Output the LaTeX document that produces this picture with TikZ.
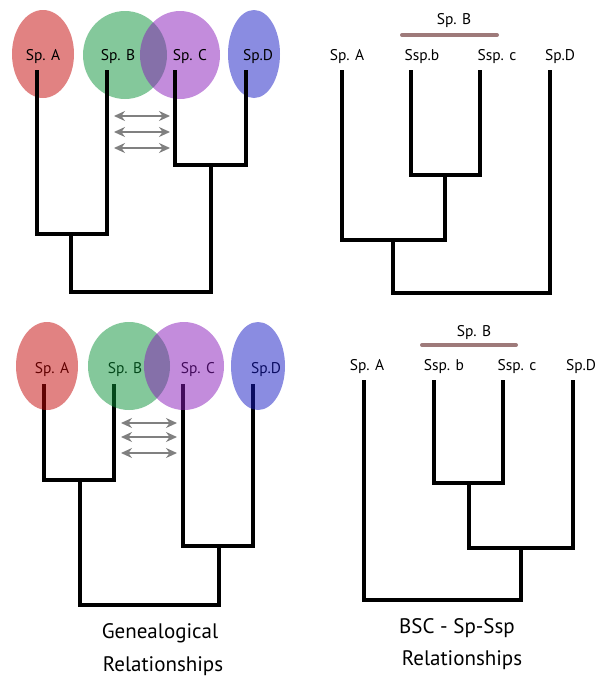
\documentclass[tikz,border=0pt]{standalone}
\usepackage{fontspec}
\setmainfont{PT Sans}
\usetikzlibrary{arrows.meta}

\definecolor{spA}{RGB}{195,5,5}
\definecolor{spB}{RGB}{9,145,55}
\definecolor{spC}{RGB}{135,25,185}
\definecolor{spD}{RGB}{21,25,195}
\definecolor{sspbar}{RGB}{158,122,122}
\definecolor{flowgray}{RGB}{128,128,128}

\tikzset{
  branch/.style={line width=4pt, line join=miter, line cap=butt},
  taxon/.style={font=\fontsize{15.5}{15.5}\selectfont, inner sep=0pt},
  caption/.style={font=\fontsize{21}{21}\selectfont, inner sep=0pt},
  flow/.style={flowgray, line width=1.6pt, {Stealth[length=11pt,width=10pt]}-{Stealth[length=11pt,width=10pt]}},
  blob/.style={opacity=0.5}
}

\begin{document}
\begin{tikzpicture}[x=1pt,y=-1pt]
\useasboundingbox (0,0) rectangle (606,678);

% --- genealogical, top ---
\fill[spA,blob] (43,54) ellipse [x radius=31pt, y radius=44pt];
\fill[spB,blob] (125,55) ellipse [x radius=42pt, y radius=44pt];
\fill[spC,blob] (180,55) ellipse [x radius=40pt, y radius=44pt];
\fill[spD,blob] (254,54) ellipse [x radius=26pt, y radius=44pt];

\node[taxon] (tA1) at (43,57) {Sp. A};
\node[taxon] (tB1) at (118,57) {Sp. B};
\node[taxon] (tC1) at (190,57) {Sp. C};
\node[taxon] (tD1) at (258,57) {Sp.D};

\coordinate (a1) at (37,70);
\coordinate (b1) at (107,70);
\coordinate (c1) at (175,70);
\coordinate (d1) at (246,70);
\coordinate (ab1) at (71,234);
\coordinate (cd1) at (211,165);
\coordinate (root1) at (141,292);

\draw[branch] (a1) |- (ab1) -| (b1);
\draw[branch] (c1) |- (cd1) -| (d1);
\draw[branch] (ab1) |- (root1) -| (cd1);

\coordinate (f1l) at (114,116); \coordinate (f1r) at (170,116);
\coordinate (f2l) at (114,132); \coordinate (f2r) at (170,132);
\coordinate (f3l) at (114,148); \coordinate (f3r) at (170,148);
\draw[flow] (f1l) -- (f1r);
\draw[flow] (f2l) -- (f2r);
\draw[flow] (f3l) -- (f3r);

% --- subspecies, top ---
\node[taxon] (sB2) at (454,21) {Sp. B};
\coordinate (bar2l) at (402,35);
\coordinate (bar2r) at (497,35);
\draw[sspbar, line width=4pt, line cap=round] (bar2l) -- (bar2r);

\node[taxon] (tA2) at (347,57) {Sp. A};
\node[taxon] (tb2) at (422,57) {Ssp.b};
\node[taxon] (tc2) at (497,57) {Ssp. c};
\node[taxon] (tD2) at (560,57) {Sp.D};

\coordinate (a2) at (342,70);
\coordinate (b2) at (411,70);
\coordinate (c2) at (480,70);
\coordinate (d2) at (550,70);
\coordinate (bc2) at (445,175);
\coordinate (abc2) at (393,240);
\coordinate (root2) at (470,293);

\draw[branch] (b2) |- (bc2) -| (c2);
\draw[branch] (a2) |- (abc2) -| (bc2);
\draw[branch] (abc2) |- (root2) -| (d2);

% --- genealogical, bottom ---
\node[taxon] (tA3) at (52,370) {Sp. A};
\node[taxon] (tB3) at (125,370) {Sp. B};
\node[taxon] (tC3) at (198,370) {Sp. C};
\node[taxon] (tD3) at (266,370) {Sp.D};

\coordinate (a3) at (44,384);
\coordinate (b3) at (114,384);
\coordinate (c3) at (183,384);
\coordinate (d3) at (253,384);
\coordinate (ab3) at (80,480);
\coordinate (cd3) at (219,546);
\coordinate (root3) at (150,605);

\draw[branch] (a3) |- (ab3) -| (b3);
\draw[branch] (c3) |- (cd3) -| (d3);
\draw[branch] (ab3) |- (root3) -| (cd3);

\fill[spA,blob] (47,366) ellipse [x radius=31pt, y radius=44pt];
\fill[spB,blob] (129,366) ellipse [x radius=41pt, y radius=44pt];
\fill[spC,blob] (184,366) ellipse [x radius=40pt, y radius=44pt];
\fill[spD,blob] (258,366) ellipse [x radius=27pt, y radius=44pt];

\coordinate (g1l) at (121,423); \coordinate (g1r) at (177,423);
\coordinate (g2l) at (121,437); \coordinate (g2r) at (177,437);
\coordinate (g3l) at (121,453); \coordinate (g3r) at (177,453);
\draw[flow] (g1l) -- (g1r);
\draw[flow] (g2l) -- (g2r);
\draw[flow] (g3l) -- (g3r);

\node[caption] (gen1) at (160,633) {Genealogical};
\node[caption] (gen2) at (163,666) {Relationships};

% --- subspecies, bottom ---
\node[taxon] (sB4) at (474,333) {Sp. B};
\coordinate (bar4l) at (422,345);
\coordinate (bar4r) at (516,345);
\draw[sspbar, line width=4pt, line cap=round] (bar4l) -- (bar4r);

\node[taxon] (tA4) at (367,367) {Sp. A};
\node[taxon] (tb4) at (444,367) {Ssp. b};
\node[taxon] (tc4) at (517,367) {Ssp. c};
\node[taxon] (tD4) at (581,367) {Sp.D};

\coordinate (a4) at (364,380);
\coordinate (b4) at (434,380);
\coordinate (c4) at (503,380);
\coordinate (d4) at (573,380);
\coordinate (bc4) at (469,483);
\coordinate (bcd4) at (521,548);
\coordinate (root4) at (440,600);

\draw[branch] (b4) |- (bc4) -| (c4);
\draw[branch] (bc4) |- (bcd4) -| (d4);
\draw[branch] (a4) |- (root4) -| (bcd4);

\node[caption] (bsc1) at (457,628) {BSC - Sp-Ssp};
\node[caption] (bsc2) at (462,660) {Relationships};
\end{tikzpicture}
\end{document}
